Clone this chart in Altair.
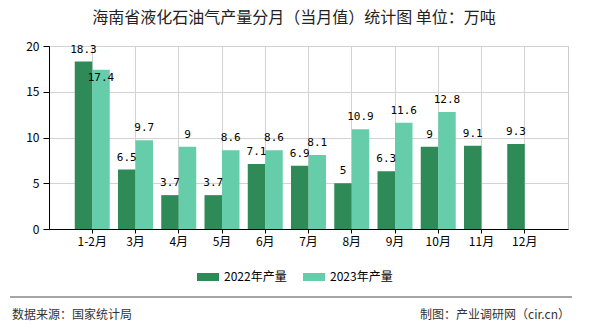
import altair as alt
import pandas as pd

title_text = "海南省液化石油气产量分月（当月值）统计图 单位：万吨"
source_text = "数据来源：国家统计局"
maker_text = "制图：产业调研网（cir.cn）"

months = ["1-2月", "3月", "4月", "5月", "6月", "7月", "8月", "9月", "10月", "11月", "12月"]
v2022 = [18.3, 6.5, 3.7, 3.7, 7.1, 6.9, 5, 6.3, 9, 9.1, 9.3]
v2023 = [17.4, 9.7, 9, 8.6, 8.6, 8.1, 10.9, 11.6, 12.8, None, None]
series = ["2022年产量", "2023年产量"]
colors = ["#2e8b57", "#66cdaa"]

rows = []
for m, a, b in zip(months, v2022, v2023):
    rows.append({"month": m, "series": series[0], "value": a})
    if b is not None:
        rows.append({"month": m, "series": series[1], "value": b})
df = pd.DataFrame(rows)
df["label"] = df["value"].map(lambda v: f"{v:g}")

CJK = "Noto Sans CJK SC"

x = alt.X(
    "month:N", sort=months,
    scale=alt.Scale(paddingInner=0, paddingOuter=0.5),
    axis=alt.Axis(title=None, labelAngle=0, grid=True, bandPosition=0.5,
                  tickSize=4, labelPadding=3),
)
xo = alt.XOffset("series:N", sort=series,
                 scale=alt.Scale(paddingInner=0, paddingOuter=0.236))
y = alt.Y("value:Q", scale=alt.Scale(domain=[0, 20]),
          axis=alt.Axis(title=None, values=[0, 5, 10, 15, 20], tickSize=6,
                        labelPadding=4))
color = alt.Color(
    "series:N",
    scale=alt.Scale(domain=series, range=colors),
    legend=alt.Legend(
        title=None, orient="none", legendX=148, legendY=220,
        direction="horizontal",
        symbolType="M-1,-0.364L1,-0.364L1,0.364L-1,0.364Z",
        symbolSize=484, symbolStrokeWidth=0, symbolOpacity=1,
        labelFont=CJK, labelFontSize=12, labelColor="#000",
        labelOffset=5, columnPadding=16, padding=0,
    ),
)

crowded = f"datum.month == '{months[0]}' && datum.series == '{series[1]}'"

bars = alt.Chart(df).mark_bar().encode(x=x, xOffset=xo, y=y, color=color)
labels = alt.Chart(df).transform_filter(f"!({crowded})").mark_text(
    dy=-7, baseline="bottom", align="center",
    font="DejaVu Sans Mono", fontSize=11, color="#000"
).encode(x=x, xOffset=xo, y=y, text="label:N")
labels_in = alt.Chart(df).transform_filter(crowded).mark_text(
    dy=8, baseline="middle", align="center",
    font="DejaVu Sans Mono", fontSize=11, color="#000"
).encode(x=x, xOffset=xo, y=y, text="label:N")

title = alt.Chart(pd.DataFrame({"t": [title_text]})).mark_text(
    font=CJK, fontSize=16, color="#222", align="center", baseline="middle"
).encode(x=alt.value(245), y=alt.value(-28), text="t:N")

rule = alt.Chart(pd.DataFrame({"a": [0]})).mark_rule(
    color="#888888", strokeWidth=1.5
).encode(x=alt.value(-39), x2=alt.value(523), y=alt.value(251))

src = alt.Chart(pd.DataFrame({"t": [source_text]})).mark_text(
    font=CJK, fontSize=12, color="#333", align="left", baseline="middle"
).encode(x=alt.value(-37), y=alt.value(269), text="t:N")

mk = alt.Chart(pd.DataFrame({"t": [maker_text]})).mark_text(
    font=CJK, fontSize=12, color="#333", align="right", baseline="middle"
).encode(x=alt.value(521), y=alt.value(269), text="t:N")

chart = alt.layer(bars, labels, labels_in, title, rule, src, mk).properties(
    width=519, height=183,
    autosize=alt.AutoSizeParams(type="none"),
    padding={"left": 49, "top": 46, "right": 22, "bottom": 101},
).configure_view(stroke="#cccccc").configure_axis(
    gridColor="#d3d3d3", domainColor="#000", tickColor="#000",
    labelColor="#000", labelFont=CJK, labelFontSize=12,
)

chart.save("out.html", embed_options={"renderer": "svg", "actions": False})
